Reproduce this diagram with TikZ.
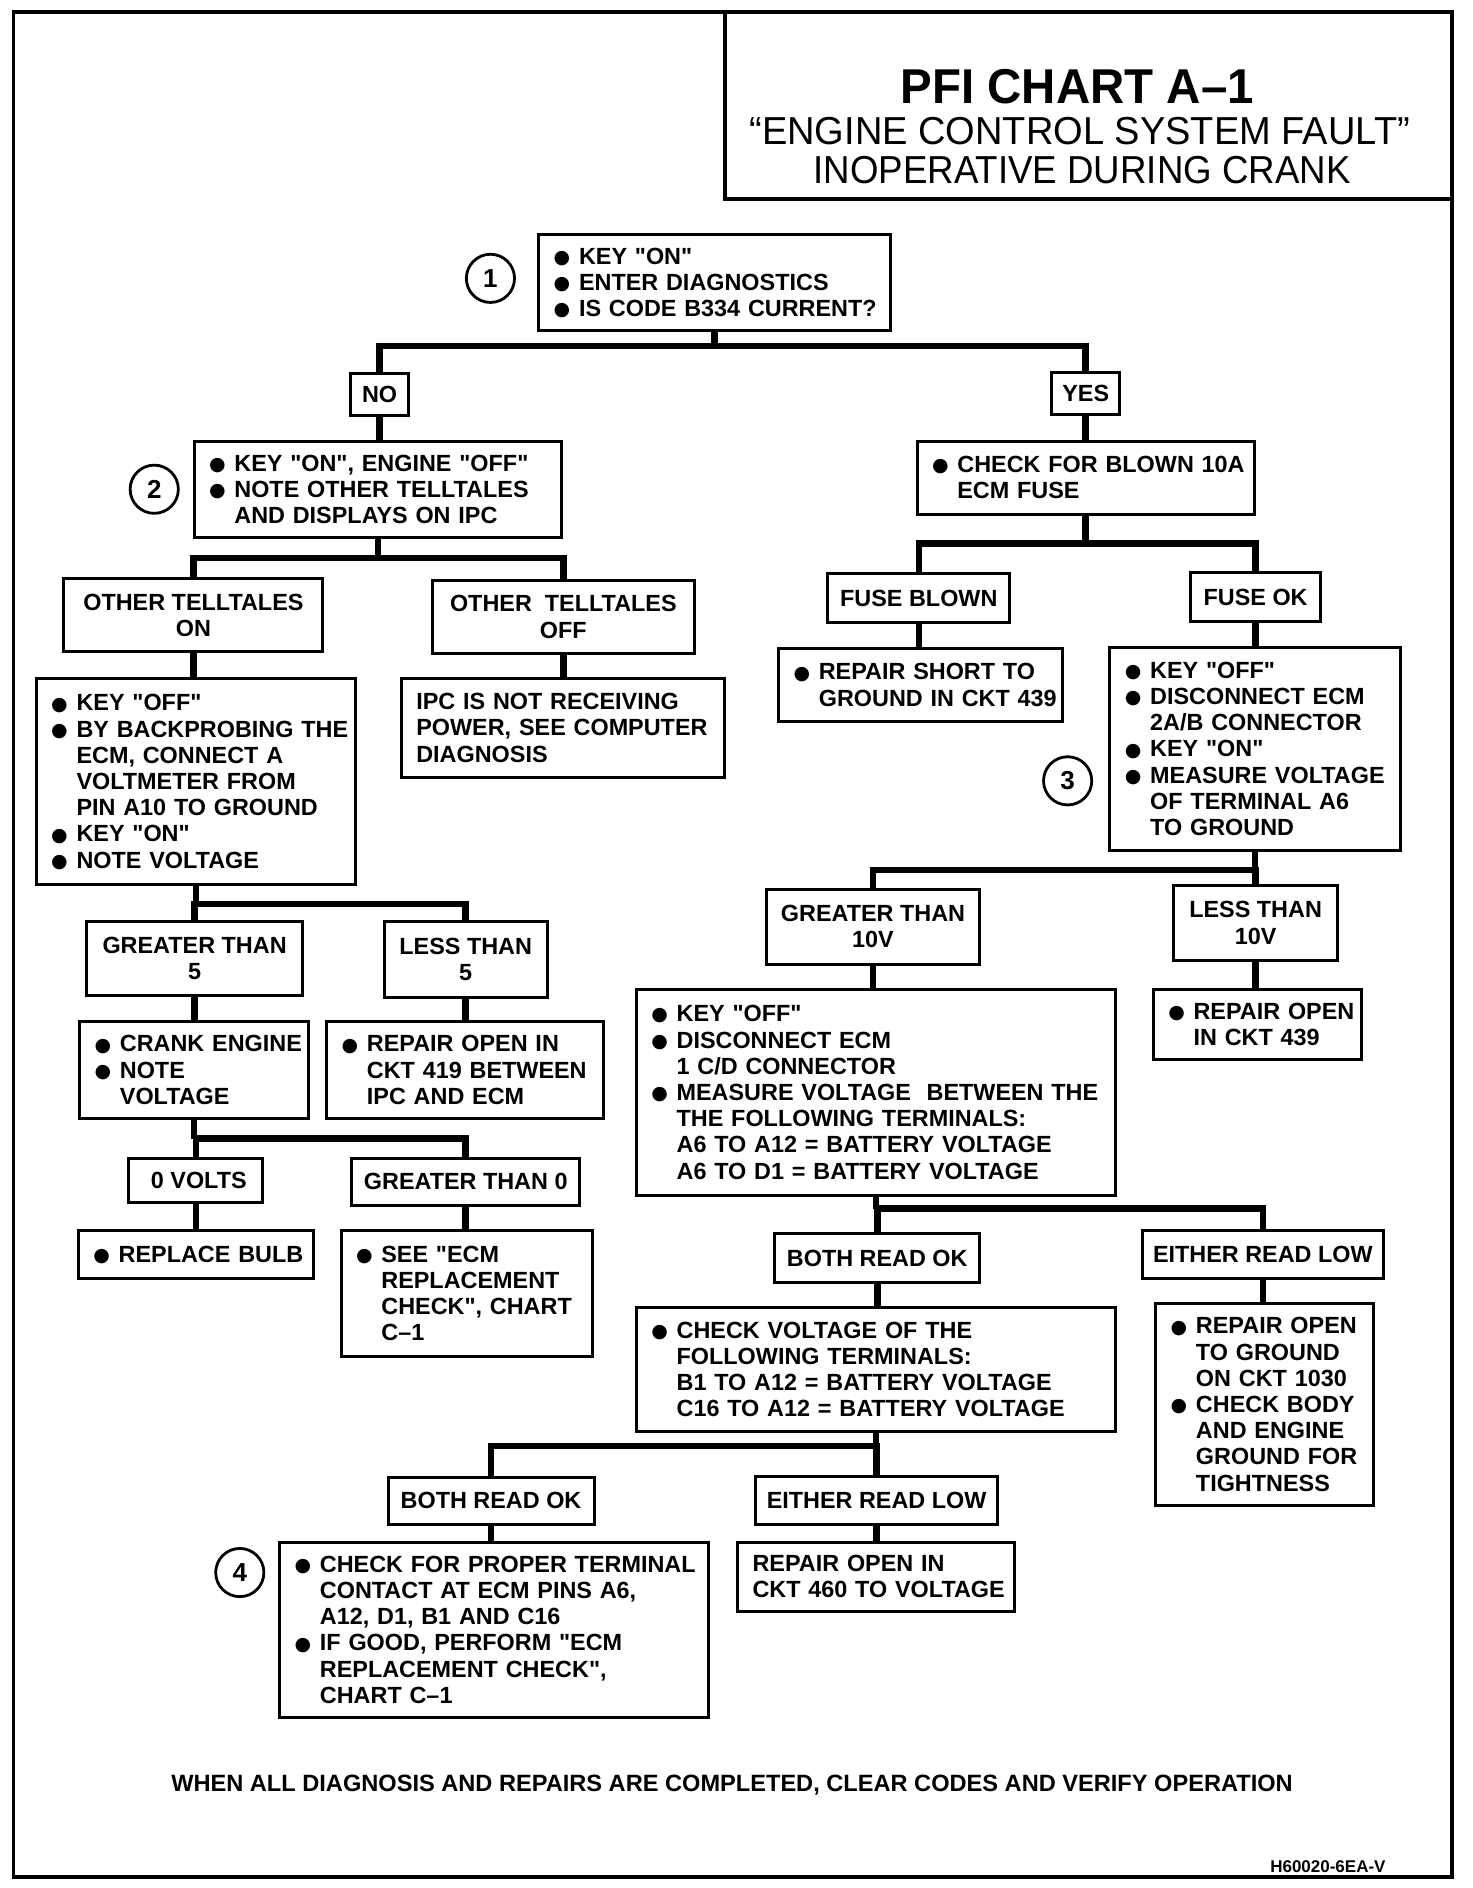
\documentclass[tikz,border=0pt]{standalone}
\usepackage{fontspec}
\setmainfont{Liberation Sans}[Ligatures=TeXOff]
\newfontfamily\dejavu{DejaVu Sans}
\usepackage{graphicx}
\newdimen\myu \myu=1.205pt
\newdimen\tw
\newcommand\boxfont{\fontsize{23.4}{26.2}\selectfont\bfseries}
\newcommand\numfont{\fontsize{26}{26}\selectfont\bfseries}
\newcommand\bul{\makebox[25.3pt][l]{\raisebox{0.9pt}[0pt][0pt]{\dejavu\fontsize{19}{19}\selectfont ●}}}
\newcommand\bI[1]{\mbox{\bul #1}}
\newcommand\iI[1]{\mbox{\hspace*{25.3pt}#1}}
\newcommand\nI[1]{\mbox{#1}}
\tikzset{
  lbox/.style={draw, line width=3pt, inner xsep=0pt, inner ysep=0pt, align=left, font=\boxfont},
  cbox/.style={draw, line width=3pt, inner sep=0pt, align=center, font=\boxfont},
  conn/.style={line width=6.5pt},
  numc/.style={circle, draw, line width=2.8pt, inner sep=0pt, minimum size={40*\myu}, font=\numfont},
  frame/.style={line width=3.5pt},
  tbox/.style={draw, line width=4pt, inner sep=0pt},
}
\newcommand\Lbox[6]{%
  \pgfmathsetlength{\tw}{(#4-#2-25)*\myu}%
  \node[lbox, minimum width={(#4-#2)*\myu}, minimum height={(#5-#3)*\myu}, text width=\tw] (#1) at ({(#2+#4)/2},{(#3+#5)/2}) {#6};}
\newcommand\Cbox[6]{%
  \node[cbox, minimum width={(#4-#2)*\myu}, minimum height={(#5-#3)*\myu}] (#1) at ({(#2+#4)/2},{(#3+#5)/2}) {#6};}
\newcommand\branch[4]{%
  \coordinate (#1bar) at (0,#4);
  \draw[conn] (#1.south) -- (#1.south |- #1bar);
  \draw[conn] (#2.north) -- (#2.north |- #1bar) -- (#3.north |- #1bar) -- (#3.north);}
\newcommand\link[2]{\draw[conn] (#1.south) -- (#1.south |- #2.north);}
\begin{document}
\begin{tikzpicture}[x=\myu, y=-\myu]
\useasboundingbox (0,0) rectangle (1221.6,1566.8);
\draw[frame] (11,10) rectangle (1205,1557.7);
\node[tbox, minimum width={603*\myu}, minimum height={155*\myu}] (titlebox) at (903.5,87.5) {};
\node[anchor=base, font=\fontsize{48.9}{50}\selectfont\bfseries] (t1) at (894,85.5) {\scalebox{0.97}[1]{PFI CHART A–1}};
\node[anchor=base, font=\fontsize{39}{40}\selectfont] (t2) at (896,120.3) {\scalebox{0.975}[1]{“ENGINE CONTROL SYSTEM FAULT”}};
\node[anchor=base, font=\fontsize{39}{40}\selectfont] (t3) at (898,152) {\scalebox{0.94}[1]{INOPERATIVE DURING CRANK}};

% left side
\Lbox{box1}{447}{195}{739}{274}{\bI{KEY "ON"}\\\bI{ENTER DIAGNOSTICS}\\\bI{IS CODE B334 CURRENT?}}
\node[numc] (c1) at (407,231) {1};
\Cbox{no}{291}{310}{339}{345}{NO}
\Cbox{yes}{873}{309}{929}{344}{YES}
\Lbox{box2}{161}{366}{466}{446}{\bI{KEY "ON", ENGINE "OFF"}\\\bI{NOTE OTHER TELLTALES}\\\iI{AND DISPLAYS ON IPC}}
\node[numc] (c2) at (128,406) {2};
\Cbox{ton}{53}{480}{268}{541}{OTHER TELLTALES\\ON}
\Cbox{toff}{359}{482}{576}{542}{OTHER \ TELLTALES\\OFF}
\Lbox{box3}{30}{563}{295}{734}{\bI{KEY "OFF"}\\\bI{BY BACKPROBING THE}\\\iI{ECM, CONNECT A}\\\iI{VOLTMETER FROM}\\\iI{PIN A10 TO GROUND}\\\bI{KEY "ON"}\\\bI{NOTE VOLTAGE}}
\Lbox{ipc}{333}{563}{601}{645}{\nI{IPC IS NOT RECEIVING}\\\nI{POWER, SEE COMPUTER}\\\nI{DIAGNOSIS}}
\Cbox{gt5}{72}{765}{251}{826}{GREATER THAN\\5}
\Cbox{lt5}{319}{765}{454}{828}{LESS THAN\\5}
\Lbox{crank}{66}{848}{256}{928}{\bI{CRANK ENGINE}\\\bI{NOTE}\\\iI{VOLTAGE}}
\Lbox{r419}{271}{848}{501}{928}{\bI{REPAIR OPEN IN}\\\iI{CKT 419 BETWEEN}\\\iI{IPC AND ECM}}
\Cbox{v0}{107}{961}{218}{998}{\hspace*{6pt}0 VOLTS}
\Cbox{gt0}{292}{961}{481}{1000}{GREATER THAN 0}
\Lbox{bulb}{65}{1021}{260}{1061}{\bI{REPLACE BULB}}
\Lbox{see}{283}{1021}{492}{1126}{\bI{SEE "ECM}\\\iI{REPLACEMENT}\\\iI{CHECK", CHART}\\\iI{C–1}}

% right side
\Lbox{fuse}{761}{366}{1041}{427}{\bI{CHECK FOR BLOWN 10A}\\\iI{ECM FUSE}}
\Cbox{fb}{687}{476}{838}{517}{FUSE BLOWN}
\Cbox{fok}{988}{475}{1096}{516}{FUSE OK}
\Lbox{short}{646}{538}{882}{599}{\bI{REPAIR SHORT TO}\\\iI{GROUND IN CKT 439}}
\Lbox{boxr}{921}{537}{1162}{706}{\bI{KEY "OFF"}\\\bI{DISCONNECT ECM}\\\iI{2A/B CONNECTOR}\\\bI{KEY "ON"}\\\bI{MEASURE VOLTAGE}\\\iI{OF TERMINAL A6}\\\iI{TO GROUND}}
\node[numc] (c3) at (886,648) {3};
\Cbox{gt10}{636}{738}{813}{800}{GREATER THAN\\10V}
\Cbox{lt10}{974}{735}{1110}{797}{LESS THAN\\10V}
\Lbox{big}{528}{821}{926}{992}{\bI{KEY "OFF"}\\\bI{DISCONNECT ECM}\\\iI{1 C/D CONNECTOR}\\\bI{MEASURE VOLTAGE \ BETWEEN THE}\\\iI{THE FOLLOWING TERMINALS:}\\\iI{A6 TO A12 = BATTERY VOLTAGE}\\\iI{A6 TO D1 = BATTERY VOLTAGE}}
\Lbox{r439}{957}{821}{1130}{879}{\bI{REPAIR OPEN}\\\iI{IN CKT 439}}
\Cbox{ok1}{643}{1024}{813}{1064}{BOTH READ OK}
\Cbox{low1}{948}{1021}{1148}{1061}{EITHER READ LOW}
\Lbox{chk}{528}{1085}{926}{1188}{\bI{CHECK VOLTAGE OF THE}\\\iI{FOLLOWING TERMINALS:}\\\iI{B1 TO A12 = BATTERY VOLTAGE}\\\iI{C16 TO A12 = BATTERY VOLTAGE}}
\Lbox{gnd}{959}{1082}{1140}{1249}{\bI{REPAIR OPEN}\\\iI{TO GROUND}\\\iI{ON CKT 1030}\\\bI{CHECK BODY}\\\iI{AND ENGINE}\\\iI{GROUND FOR}\\\iI{TIGHTNESS}}
\Cbox{ok2}{322}{1226}{493}{1265}{BOTH READ OK}
\Cbox{low2}{627}{1225}{828}{1265}{EITHER READ LOW}
\Lbox{box4}{232}{1280}{588}{1425}{\bI{CHECK FOR PROPER TERMINAL}\\\iI{CONTACT AT ECM PINS A6,}\\\iI{A12, D1, B1 AND C16}\\\bI{IF GOOD, PERFORM "ECM}\\\iI{REPLACEMENT CHECK",}\\\iI{CHART C–1}}
\node[numc] (c4) at (199,1305) {4};
\Lbox{r460}{612}{1280}{842}{1337}{\nI{REPAIR OPEN IN}\\\nI{CKT 460 TO VOLTAGE}}

% connectors
\branch{box1}{no}{yes}{287}
\link{no}{box2}
\branch{box2}{ton}{toff}{463}
\link{ton}{box3}
\link{toff}{ipc}
\branch{box3}{gt5}{lt5}{750}
\link{gt5}{crank}
\link{lt5}{r419}
\branch{crank}{v0}{gt0}{945}
\link{v0}{bulb}
\link{gt0}{see}
\link{yes}{fuse}
\branch{fuse}{fb}{fok}{451}
\link{fb}{short}
\link{fok}{boxr}
\branch{boxr}{gt10}{lt10}{722}
\link{gt10}{big}
\link{lt10}{r439}
\branch{big}{ok1}{low1}{1003}
\link{ok1}{chk}
\link{low1}{gnd}
\branch{chk}{ok2}{low2}{1200}
\link{ok2}{box4}
\link{low2}{r460}

\node[font=\fontsize{23.6}{28}\selectfont\bfseries] (foot) at (607.5,1481) {WHEN ALL DIAGNOSIS AND REPAIRS ARE COMPLETED, CLEAR CODES AND VERIFY OPERATION};
\node[anchor=base, font=\fontsize{17}{18}\selectfont\bfseries] (code) at (1102,1554) {H60020-6EA-V};
\end{tikzpicture}
\end{document}
